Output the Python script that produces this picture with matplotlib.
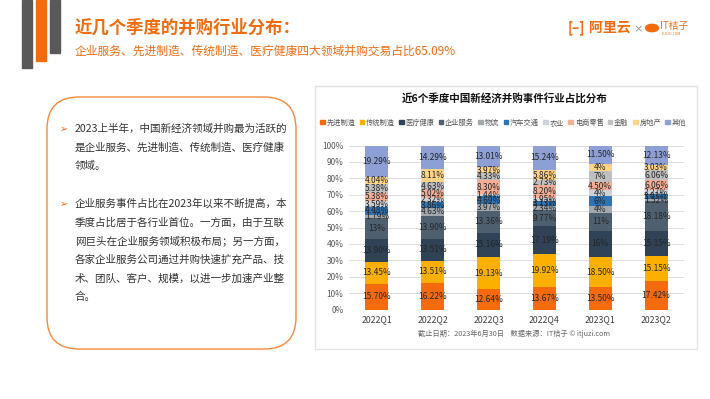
import matplotlib
matplotlib.use("Agg")
import matplotlib.pyplot as plt
from matplotlib.patches import Rectangle, FancyBboxPatch, Circle
import numpy as np

plt.rcParams['font.family'] = ['Noto Sans CJK SC', 'DejaVu Sans']

quarters = ['2022Q1', '2022Q2', '2022Q3', '2022Q4', '2023Q1', '2023Q2']
categories = ['先进制造', '传统制造', '医疗健康', '企业服务', '物流', '汽车交通',
              '农业', '电商零售', '金融', '房地产', '其他']
adv_mfg = [15.70, 16.22, 12.64, 13.67, 13.50, 17.42]
trad_mfg = [13.45, 13.51, 19.13, 19.92, 18.50, 15.15]
healthcare = [13.90, 13.51, 15.16, 17.19, 16, 15.15]
enterprise = [13, 13.90, 13.36, 9.77, 11, 18.18]
logistics = [1.79, 4.63, 3.97, 2.34, 4, 1.52]
auto = [4.48, 3.86, 4.69, 3.13, 6, 3.03]
agriculture = [3.59, 2.32, 1.44, 1.95, 4, 2.27]
ecommerce = [5.38, 5.02, 8.30, 8.20, 4.50, 6.06]
finance = [5.38, 4.63, 4.33, 2.73, 7, 6.06]
real_estate = [4.04, 8.11, 3.97, 5.86, 4, 3.03]
others = [19.29, 14.29, 13.01, 15.24, 11.50, 12.13]
series = [adv_mfg, trad_mfg, healthcare, enterprise, logistics, auto,
          agriculture, ecommerce, finance, real_estate, others]
colors = ['#F46A0C', '#FBB000', '#2F4256', '#4E5F70', '#A3A8AE', '#2E74B5',
          '#CDD2D8', '#F4AE96', '#BFBFBF', '#FED386', '#8E9FD6']

title = '近几个季度的并购行业分布：'
subtitle = '企业服务、先进制造、传统制造、医疗健康四大领域并购交易占比65.09%'
chart_title = '近6个季度中国新经济并购事件行业占比分布'
footer = '截止日期：2023年6月30日    数据来源：IT桔子 © itjuzi.com'
para1 = ['2023上半年，中国新经济领域并购最为活跃的',
         '是企业服务、先进制造、传统制造、医疗健康',
         '领域。']
para2 = ['企业服务事件占比在2023年以来不断提高，本',
         '季度占比居于各行业首位。一方面，由于互联',
         '网巨头在企业服务领域积极布局；另一方面，',
         '各家企业服务公司通过并购快速扩充产品、技',
         '术、团队、客户、规模，以进一步加速产业整',
         '合。']

W, H = 710, 399
fig = plt.figure(figsize=(W / 100, H / 100), dpi=100)
fig.patch.set_facecolor('white')

def fx(x):
    return x / W

def fy(y):
    return 1 - y / H

ORANGE = '#F26B0F'

# decorative bars
for x0, x1, yb, c in [(22, 32, 68, '#595959'), (36, 46, 61, '#F26B0F'), (50, 60, 53, '#595959')]:
    fig.patches.append(Rectangle((fx(x0), fy(yb)), fx(x1 - x0), yb / H,
                                 transform=fig.transFigure, color=c, zorder=1))

fig.text(fx(75), fy(28), title, fontsize=12.5, fontweight='bold', color=ORANGE,
         ha='left', va='center')
fig.text(fx(75), fy(51), subtitle, fontsize=8.5, color=ORANGE, ha='left', va='center')

# logo
fig.text(fx(568), fy(28), '[–]', fontsize=9.5, fontweight='bold', color=ORANGE, ha='left', va='center')
fig.text(fx(589), fy(28), '阿里云', fontsize=10, fontweight='bold', color=ORANGE, ha='left', va='center')
fig.text(fx(633), fy(29), '×', fontsize=8, color='#999999', ha='left', va='center',
         family=['DejaVu Sans'])
fig.patches.append(Circle((fx(652), fy(28)), 6.5 / W, transform=fig.transFigure,
                          color=ORANGE, zorder=2))
fig.text(fx(660), fy(26), 'IT桔子', fontsize=7, color=ORANGE, ha='left', va='center')
fig.text(fx(662), fy(34), 'ITJUZI.COM', fontsize=2.5, color=ORANGE, ha='left', va='center')

# left text box
fig.patches.append(FancyBboxPatch((fx(47), fy(349)), fx(296 - 47), (349 - 97) / H,
                                  boxstyle='round,pad=0,rounding_size=0.045',
                                  transform=fig.transFigure, facecolor='white',
                                  edgecolor='#F7883A', linewidth=1.0, zorder=1,
                                  mutation_aspect=W / H))
y = 129
for para in (para1, para2):
    fig.text(fx(60), fy(y), '➢', fontsize=7, color=ORANGE, ha='left', va='center',
             family=['DejaVu Sans'])
    for line in para:
        fig.text(fx(75), fy(y), line, fontsize=7.6, color='#333333', ha='left', va='center')
        y += 18.7
    y += 18.7

# chart panel
fig.patches.append(Rectangle((fx(315), fy(349)), fx(697 - 315), (349 - 86) / H,
                             transform=fig.transFigure, facecolor='white',
                             edgecolor='#E3E3E3', linewidth=1.0, zorder=1))
fig.text(fx(505), fy(98), chart_title, fontsize=7.6, fontweight='bold', color='#111111',
         ha='center', va='center')
fig.text(fx(514), fy(334), footer, fontsize=5.2, color='#666666', ha='center', va='center')

ax = fig.add_axes([fx(349), fy(309.5), fx(684 - 349), (309.5 - 145.5) / H])
ax.set_zorder(3)
ax.patch.set_alpha(0)
x = np.arange(len(quarters))
bottom = np.zeros(len(quarters))
for name, vals, c in zip(categories, series, colors):
    vals = np.array(vals, dtype=float)
    ax.bar(x, vals, 0.41, bottom=bottom, color=c, label=name, zorder=2)
    for xi, v, bt in zip(x, vals, bottom):
        lab = f'{int(v)}%' if float(v).is_integer() else f'{v:.2f}%'
        ax.text(xi, bt + v / 2, lab, ha='center', va='center', fontsize=6.0,
                color='#262626', zorder=3)
    bottom += vals

ax.set_xlim(-0.5, 5.5)
ax.set_ylim(0, 100)
ax.set_yticks(np.arange(0, 101, 10))
ax.set_yticklabels([f'{v}%' for v in range(0, 101, 10)], fontsize=6, color='#595959')
ax.set_xticks(x)
ax.set_xticklabels(quarters, fontsize=6.3, color='#404040')
ax.tick_params(length=0, pad=4)
ax.grid(axis='y', color='#DDDDDD', linewidth=0.7, zorder=0)
ax.set_axisbelow(True)
for s in ax.spines.values():
    s.set_visible(False)

# manual legend (single row, common baseline)
renderer = fig.canvas.get_renderer()
lx = 320.0
ly = 122.0
for name, c in zip(categories, colors):
    fig.patches.append(Rectangle((fx(lx), fy(ly + 2.3)), fx(4.6), 4.6 / H,
                                 transform=fig.transFigure, color=c, zorder=2))
    t = fig.text(fx(lx + 6.4), fy(ly + 2.6), name, fontsize=5.2, color='#555555',
                 ha='left', va='baseline')
    w = t.get_window_extent(renderer).width
    lx += 6.4 + w + 4.2

fig.savefig('out.png', dpi=100)
